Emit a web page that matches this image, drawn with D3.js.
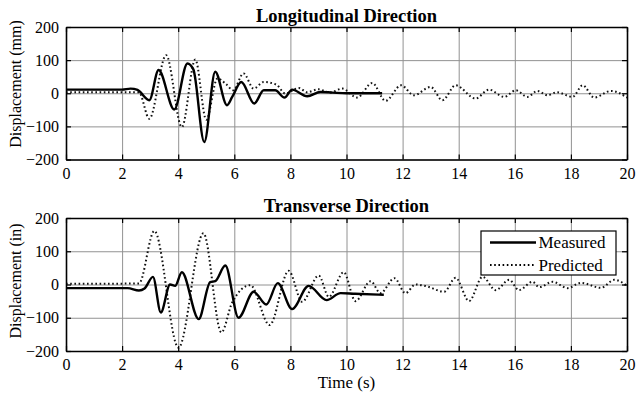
<!DOCTYPE html>
<html><head><meta charset="utf-8">
<script src="https://cdn.jsdelivr.net/npm/d3@7"></script>
<style>body{margin:0;background:#fff}svg{display:block}</style>
</head><body>
<svg id="c" width="636" height="397"></svg>
<script>
const xTicks = [0,2,4,6,8,10,12,14,16,18,20];
const yTicks = [-200,-100,0,100,200];
const seriesNames = ["Measured","Predicted"];
const titles = ["Longitudinal Direction","Transverse Direction"];
const yLabels = ["Displacement (mm)","Displacement (in)"];
const xLabel = "Time (s)";

// Longitudinal: [time s, displacement]
const longMeasured = [[0,11],[2.0,11],[2.3,14],[2.55,10],[2.97,-21],[3.3,70],[3.86,-49],[4.33,90],[4.54,72],[4.93,-147],[5.32,65],[5.74,-36],[5.92,-12],[6.25,34],[6.71,-31],[7.05,9],[7.46,9],[7.79,-13],[8.06,11],[8.6,-9],[9.07,4],[9.5,2],[10,0],[11.27,0]];
const longPredicted = [[0,3],[2.6,3],[2.97,-77],[3.57,115],[4.13,-102],[4.61,102],[5.0,-80],[5.4,45],[5.7,28],[5.96,9],[6.33,60],[6.69,14],[7.05,34],[7.5,26],[7.82,-1],[8.3,16],[8.6,3],[9.0,12],[9.4,2],[9.85,14],[10.38,-13],[10.92,31],[11.39,-23],[11.95,24],[12.4,-6],[13.0,19],[13.42,-21],[13.89,24],[14.6,-16],[15.08,11],[15.62,-11],[16.04,9],[16.45,-11],[16.8,7],[17.17,-6],[17.5,3],[18.06,-11],[18.42,24],[18.83,-13],[19.43,7],[20,-13]];
// Transverse
const transMeasured = [[0,-11],[2.2,-11],[2.6,-18],[2.8,-12],[3.1,23],[3.38,-84],[3.71,0],[3.89,-4],[4.13,37],[4.73,-104],[5.14,7],[5.32,10],[5.68,57],[6.15,-100],[6.69,-22],[7.14,-60],[7.55,4],[8.06,-74],[8.65,-4],[9.29,-47],[9.79,-26],[10.3,-28],[11.33,-31]];
const transPredicted = [[0,2],[2.6,3],[3.15,161],[4.01,-190],[4.9,154],[5.54,-144],[5.92,-55],[6.57,-2],[7.26,-122],[7.94,41],[8.42,-52],[9.01,27],[9.37,-37],[9.9,37],[10.32,-50],[10.86,10],[11.21,-26],[11.71,19],[12.1,-26],[12.46,0],[12.88,-6],[13.48,-22],[13.89,20],[14.37,-50],[14.85,23],[15.32,-17],[15.8,14],[16.15,-17],[16.63,8],[16.87,-8],[17.35,8],[17.88,-11],[18.36,5],[19.07,-10],[19.55,14],[20,-4]];

const FONT = "'Liberation Serif', 'Times New Roman', Times, 'DejaVu Serif', serif";
const svg = d3.select("#c");
const L = 66, R = 627;
const x = d3.scaleLinear([0,20],[L,R]);
const panels = [
  {top:27, bottom:159.5, meas:longMeasured, pred:longPredicted, title:titles[0], ylab:yLabels[0], titleY:22, ylabY:84, legend:false},
  {top:218, bottom:351, meas:transMeasured, pred:transPredicted, title:titles[1], ylab:yLabels[1], titleY:212, ylabY:281, legend:true}
];
const fmt = d => d < 0 ? "\u2212" + Math.abs(d) : String(d);

panels.forEach(p => {
  const y = d3.scaleLinear([-200,200],[p.bottom,p.top]);
  const g = svg.append("g");
  g.append("g").attr("transform",`translate(0,${p.bottom})`)
    .call(d3.axisBottom(x).tickValues(xTicks).tickSize(-(p.bottom-p.top)).tickFormat(""))
    .call(a=>{a.select(".domain").remove();a.selectAll("line").attr("stroke","#929292").attr("stroke-width",1);});
  g.append("g").attr("transform",`translate(${L},0)`)
    .call(d3.axisLeft(y).tickValues(yTicks).tickSize(-(R-L)).tickFormat(""))
    .call(a=>{a.select(".domain").remove();a.selectAll("line").attr("stroke","#929292").attr("stroke-width",1);});
  const line = d3.line().x(d=>x(d[0])).y(d=>y(d[1])).curve(d3.curveMonotoneX);
  g.append("path").datum(p.pred).attr("d",line).attr("fill","none").attr("stroke","#111").attr("stroke-width",2).attr("stroke-dasharray","1.6,2.6");
  g.append("path").datum(p.meas).attr("d",line).attr("fill","none").attr("stroke","#000").attr("stroke-width",2.4);
  const styleAx = a=>{a.attr("font-family",FONT);a.select(".domain").attr("stroke","#000").attr("stroke-width",1.6);a.selectAll(".tick line").attr("stroke","#000").attr("stroke-width",1.2);a.selectAll("text").attr("font-size",16);};
  g.append("g").attr("transform",`translate(0,${p.bottom})`)
    .call(d3.axisBottom(x).tickValues(xTicks).tickSizeInner(-5).tickSizeOuter(0).tickPadding(8))
    .call(styleAx);
  g.append("g").attr("transform",`translate(0,${p.top})`)
    .call(d3.axisTop(x).tickValues(xTicks).tickSizeInner(-5).tickSizeOuter(0).tickFormat(""))
    .call(styleAx);
  g.append("g").attr("transform",`translate(${L},0)`)
    .call(d3.axisLeft(y).tickValues(yTicks).tickSizeInner(-5).tickSizeOuter(0).tickPadding(7).tickFormat(fmt))
    .call(styleAx);
  g.append("g").attr("transform",`translate(${R},0)`)
    .call(d3.axisRight(y).tickValues(yTicks).tickSizeInner(-5).tickSizeOuter(0).tickFormat(""))
    .call(styleAx);
  g.append("text").attr("x",(L+R)/2).attr("y",p.titleY).attr("text-anchor","middle")
    .attr("font-size",18.5).attr("font-weight","bold").text(p.title);
  g.append("text").attr("transform",`translate(21,${p.ylabY}) rotate(-90)`).attr("text-anchor","middle")
    .attr("font-size",16).text(p.ylab);
  if (p.legend) {
    const lg = g.append("g");
    lg.append("rect").attr("x",481).attr("y",231).attr("width",135).attr("height",44)
      .attr("fill","#fff").attr("stroke","#000").attr("stroke-width",1.2);
    const rows = [{name:seriesNames[0],dash:null,w:2.4,yy:242.5},{name:seriesNames[1],dash:"1.6,2.6",w:2,yy:265}];
    rows.forEach(r=>{
      lg.append("line").attr("x1",490).attr("x2",536).attr("y1",r.yy).attr("y2",r.yy)
        .attr("stroke","#000").attr("stroke-width",r.w).attr("stroke-dasharray",r.dash);
      lg.append("text").attr("x",538.5).attr("y",r.yy).attr("dy","0.35em").attr("font-size",17).text(r.name);
    });
  }
});
svg.append("text").attr("x",(L+R)/2).attr("y",388).attr("text-anchor","middle").attr("font-size",17).text(xLabel);
svg.selectAll("text").style("font-family",FONT).attr("fill","#000");
</script>
</body></html>
